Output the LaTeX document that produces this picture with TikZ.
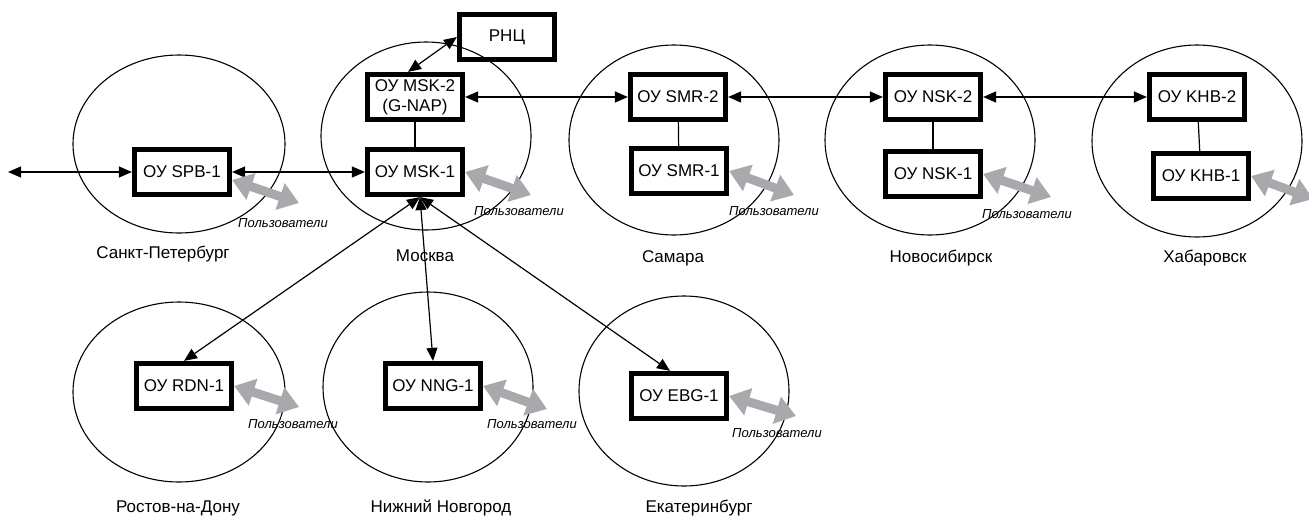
\documentclass[tikz,border=0pt]{standalone}
\usepackage{fontspec}
\setmainfont{Liberation Sans}
\usetikzlibrary{arrows.meta}
\definecolor{usergray}{RGB}{167,169,172}

\begin{document}
\begin{tikzpicture}[x=1pt, y=-1pt]
                \tikzstyle{site} = [line width=1.1pt]
                \tikzstyle{unit} = [draw, line width=5.2pt, minimum width=95pt, minimum height=45pt, inner sep=2pt, align=center, font=\fontsize{17}{20}\selectfont]
                \tikzstyle{city} = [font=\fontsize{17}{20}\selectfont]
                \tikzstyle{userlabel} = [font=\fontsize{13}{15}\selectfont\itshape]
                \tikzstyle{link} = [line width=1.2pt, {Triangle[length=13pt, width=11pt]}-{Triangle[length=13pt, width=11pt]}]
                \tikzstyle{plain} = [line width=1.2pt]
                \tikzstyle{users} = [line width=9pt, color=usergray, {Triangle[length=20pt, width=27pt]}-{Triangle[length=20pt, width=27pt]}]
                \useasboundingbox (0, 0) rectangle (1309, 517);
                % sites
                \draw[site] (179, 144) ellipse [x radius=106, y radius=89];
                \draw[site] (426, 136) ellipse [x radius=105, y radius=94];
                \draw[site] (674, 140) ellipse [x radius=105, y radius=95];
                \draw[site] (930, 140) ellipse [x radius=105, y radius=95];
                \draw[site] (1197, 141) ellipse [x radius=105, y radius=96];
                \draw[site] (179, 392) ellipse [x radius=106, y radius=90];
                \draw[site] (428, 387) ellipse [x radius=105, y radius=95];
                \draw[site] (684, 391) ellipse [x radius=105, y radius=95];
                \node[city] (cSPB) at (163, 254) {Санкт-Петербург};
                \node[city] (cMSK) at (425, 256) {Москва};
                \node[city] (cSMR) at (673, 258) {Самара};
                \node[city] (cNSK) at (941, 258) {Новосибирск};
                \node[city] (cKHB) at (1205, 258) {Хабаровск};
                \node[city] (cRDN) at (178, 508) {Ростов-на-Дону};
                \node[city] (cNNG) at (441, 508) {Нижний Новгород};
                \node[city] (cEBG) at (699, 508) {Екатеринбург};
                % units
                \node[unit] (RNC) at (507, 37) {РНЦ};
                \node[unit] (MSK2) at (415, 97) {ОУ MSK-2\\(G-NAP)};
                \node[unit] (MSK1) at (415, 172) {ОУ MSK-1};
                \node[unit] (SPB1) at (182, 172) {ОУ SPB-1};
                \node[unit] (SMR2) at (678, 97) {ОУ SMR-2};
                \node[unit] (SMR1) at (679, 171) {ОУ SMR-1};
                \node[unit] (NSK2) at (933, 97) {ОУ NSK-2};
                \node[unit] (NSK1) at (933, 174) {ОУ NSK-1};
                \node[unit] (KHB2) at (1197, 97) {ОУ KHB-2};
                \node[unit] (KHB1) at (1201, 176) {ОУ KHB-1};
                \node[unit] (RDN1) at (184, 386) {ОУ RDN-1};
                \node[unit] (NNG1) at (433, 386) {ОУ NNG-1};
                \node[unit] (EBG1) at (679, 396) {ОУ EBG-1};
                % links
                \coordinate (west) at (8, 172);
                \draw[link] (west) -- (SPB1.west);
                \draw[link] (SPB1.east) -- (MSK1.west);
                \draw[link] ([xshift=-7pt]MSK2.north) -- (RNC.west);
                \draw[link] (MSK2.east) -- (SMR2.west);
                \draw[link] (SMR2.east) -- (NSK2.west);
                \draw[link] (NSK2.east) -- (KHB2.west);
                \draw[plain] (MSK2) -- (MSK1);
                \draw[plain] (SMR2) -- (SMR1);
                \draw[plain] (NSK2) -- (NSK1);
                \draw[plain] (KHB2) -- (KHB1);
                \draw[link] ([xshift=5pt]MSK1.south) -- (RDN1.north);
                \draw[link] ([xshift=5pt]MSK1.south) -- (NNG1.north);
                \draw[link] ([xshift=5pt]MSK1.south) -- ([xshift=-9pt]EBG1.north);
                % users
                \coordinate (uSPB) at (299, 203);
                \coordinate (uMSK) at (531, 195);
                \coordinate (uSMR) at (794, 195);
                \coordinate (uNSK) at (1051, 197);
                \coordinate (uKHB) at (1313, 199);
                \coordinate (uRDN) at (299, 407);
                \coordinate (uNNG) at (547, 409);
                \coordinate (uEBG) at (796, 416);
                \draw[users] ([yshift=-8pt]SPB1.east) -- (uSPB);
                \draw[users] (MSK1.east) -- (uMSK);
                \draw[users] (SMR1.east) -- (uSMR);
                \draw[users] (NSK1.east) -- (uNSK);
                \draw[users] (KHB1.east) -- (uKHB);
                \draw[users] (RDN1.east) -- (uRDN);
                \draw[users] (NNG1.east) -- (uNNG);
                \draw[users] (EBG1.east) -- (uEBG);
                \node[userlabel] (lSPB) at (283, 223) {Пользователи};
                \node[userlabel] (lMSK) at (519, 211) {Пользователи};
                \node[userlabel] (lSMR) at (774, 211) {Пользователи};
                \node[userlabel] (lNSK) at (1027, 214) {Пользователи};
                \node[userlabel] (lRDN) at (293, 424) {Пользователи};
                \node[userlabel] (lNNG) at (532, 424) {Пользователи};
                \node[userlabel] (lEBG) at (777, 433) {Пользователи};
\end{tikzpicture}
\end{document}
